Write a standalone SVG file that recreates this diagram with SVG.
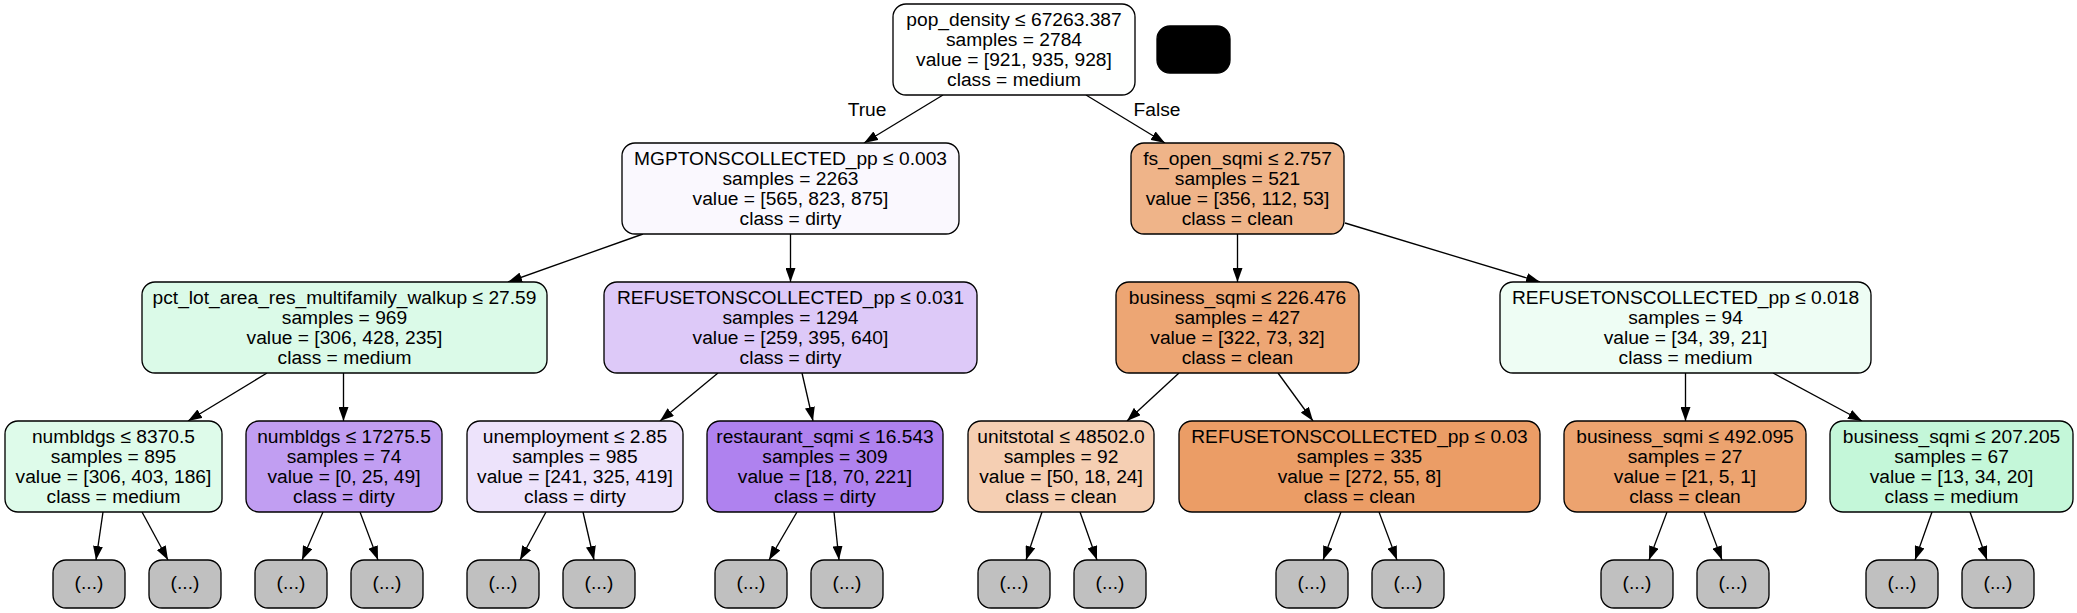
<svg xmlns="http://www.w3.org/2000/svg" width="2077" height="613" viewBox="0 0 2077 613">
<style>
  .box { stroke:#000; stroke-width:1.33; }
  .more { fill:#c0c0c0; stroke:#000; stroke-width:1.33; }
  text { font-family:"Liberation Sans", Arial, Helvetica, sans-serif; font-size:19.2px; fill:#000; text-anchor:middle; }
  #edges line { stroke:#000; stroke-width:1.33; fill:none; marker-end:url(#ah); }
</style>
<defs>
  <marker id="ah" markerUnits="userSpaceOnUse" markerWidth="14" markerHeight="10" refX="14" refY="5" orient="auto">
    <path d="M0,0 L14,5 L0,10 z" fill="#000"/>
  </marker>
</defs>
<rect width="2077" height="613" fill="#fff"/>

<g id="edges">
  <line x1="943" y1="95" x2="864" y2="143"/>
  <line x1="1086" y1="95" x2="1165" y2="143"/>
  <line x1="643" y1="234" x2="508" y2="282"/>
  <line x1="790.5" y1="234" x2="790.5" y2="282"/>
  <line x1="1237.5" y1="234" x2="1237.5" y2="282"/>
  <line x1="1345" y1="223" x2="1540" y2="282"/>
  <line x1="267" y1="373" x2="188" y2="421"/>
  <line x1="343.5" y1="373" x2="343.5" y2="421"/>
  <line x1="718" y1="373" x2="660" y2="421"/>
  <line x1="802" y1="373" x2="813" y2="421"/>
  <line x1="1179" y1="373" x2="1127" y2="421"/>
  <line x1="1278" y1="373" x2="1313" y2="421"/>
  <line x1="1685.5" y1="373" x2="1685.5" y2="421"/>
  <line x1="1773" y1="373" x2="1862" y2="421"/>
  <line x1="103" y1="512" x2="96" y2="560"/>
  <line x1="142" y1="512" x2="168" y2="560"/>
  <line x1="323" y1="512" x2="302" y2="560"/>
  <line x1="360" y1="512" x2="378" y2="560"/>
  <line x1="546" y1="512" x2="520" y2="560"/>
  <line x1="583" y1="512" x2="594" y2="560"/>
  <line x1="797" y1="512" x2="769" y2="560"/>
  <line x1="834" y1="512" x2="839" y2="560"/>
  <line x1="1042" y1="512" x2="1026" y2="560"/>
  <line x1="1080" y1="512" x2="1097" y2="560"/>
  <line x1="1341" y1="512" x2="1323" y2="560"/>
  <line x1="1379" y1="512" x2="1397" y2="560"/>
  <line x1="1667" y1="512" x2="1649" y2="560"/>
  <line x1="1704" y1="512" x2="1722" y2="560"/>
  <line x1="1932" y1="512" x2="1915" y2="560"/>
  <line x1="1970" y1="512" x2="1987" y2="560"/>
</g>
<g id="edge-labels">
  <text x="867" y="116">True</text>
  <text x="1157" y="116">False</text>
</g>

<g id="n0">
  <rect class="box" x="893" y="4" width="242" height="91" rx="13" fill="#fefffe"/>
  <text x="1014" y="25.8">pop_density ≤ 67263.387</text>
  <text x="1014" y="45.8">samples = 2784</text>
  <text x="1014" y="65.8">value = [921, 935, 928]</text>
  <text x="1014" y="85.8">class = medium</text>
</g>
<g id="legend">
  <rect x="1157" y="26" width="73" height="47" rx="13" fill="#000" stroke="#000" stroke-width="1.33"/>
</g>

<g id="n1">
  <rect class="box" x="622" y="143" width="337" height="91" rx="13" fill="#faf8fe"/>
  <text x="790.5" y="164.8">MGPTONSCOLLECTED_pp ≤ 0.003</text>
  <text x="790.5" y="184.8">samples = 2263</text>
  <text x="790.5" y="204.8">value = [565, 823, 875]</text>
  <text x="790.5" y="224.8">class = dirty</text>
</g>
<g id="n2">
  <rect class="box" x="1131" y="143" width="213" height="91" rx="13" fill="#efb489"/>
  <text x="1237.5" y="164.8">fs_open_sqmi ≤ 2.757</text>
  <text x="1237.5" y="184.8">samples = 521</text>
  <text x="1237.5" y="204.8">value = [356, 112, 53]</text>
  <text x="1237.5" y="224.8">class = clean</text>
</g>

<g id="n3">
  <rect class="box" x="142" y="282" width="405" height="91" rx="13" fill="#dbfae8"/>
  <text x="344.5" y="303.8">pct_lot_area_res_multifamily_walkup ≤ 27.59</text>
  <text x="344.5" y="323.8">samples = 969</text>
  <text x="344.5" y="343.8">value = [306, 428, 235]</text>
  <text x="344.5" y="363.8">class = medium</text>
</g>
<g id="n4">
  <rect class="box" x="604" y="282" width="373" height="91" rx="13" fill="#ddc9f8"/>
  <text x="790.5" y="303.8">REFUSETONSCOLLECTED_pp ≤ 0.031</text>
  <text x="790.5" y="323.8">samples = 1294</text>
  <text x="790.5" y="343.8">value = [259, 395, 640]</text>
  <text x="790.5" y="363.8">class = dirty</text>
</g>
<g id="n5">
  <rect class="box" x="1116" y="282" width="243" height="91" rx="13" fill="#eda674"/>
  <text x="1237.5" y="303.8">business_sqmi ≤ 226.476</text>
  <text x="1237.5" y="323.8">samples = 427</text>
  <text x="1237.5" y="343.8">value = [322, 73, 32]</text>
  <text x="1237.5" y="363.8">class = clean</text>
</g>
<g id="n6">
  <rect class="box" x="1500" y="282" width="371" height="91" rx="13" fill="#eefdf4"/>
  <text x="1685.5" y="303.8">REFUSETONSCOLLECTED_pp ≤ 0.018</text>
  <text x="1685.5" y="323.8">samples = 94</text>
  <text x="1685.5" y="343.8">value = [34, 39, 21]</text>
  <text x="1685.5" y="363.8">class = medium</text>
</g>

<g id="n7">
  <rect class="box" x="5" y="421" width="217" height="91" rx="13" fill="#defbea"/>
  <text x="113.5" y="442.8">numbldgs ≤ 8370.5</text>
  <text x="113.5" y="462.8">samples = 895</text>
  <text x="113.5" y="482.8">value = [306, 403, 186]</text>
  <text x="113.5" y="502.8">class = medium</text>
</g>
<g id="n8">
  <rect class="box" x="246" y="421" width="196" height="91" rx="13" fill="#c19ef2"/>
  <text x="344" y="442.8">numbldgs ≤ 17275.5</text>
  <text x="344" y="462.8">samples = 74</text>
  <text x="344" y="482.8">value = [0, 25, 49]</text>
  <text x="344" y="502.8">class = dirty</text>
</g>
<g id="n9">
  <rect class="box" x="467" y="421" width="216" height="91" rx="13" fill="#ede3fb"/>
  <text x="575" y="442.8">unemployment ≤ 2.85</text>
  <text x="575" y="462.8">samples = 985</text>
  <text x="575" y="482.8">value = [241, 325, 419]</text>
  <text x="575" y="502.8">class = dirty</text>
</g>
<g id="n10">
  <rect class="box" x="707" y="421" width="236" height="91" rx="13" fill="#af82ef"/>
  <text x="825" y="442.8">restaurant_sqmi ≤ 16.543</text>
  <text x="825" y="462.8">samples = 309</text>
  <text x="825" y="482.8">value = [18, 70, 221]</text>
  <text x="825" y="502.8">class = dirty</text>
</g>
<g id="n11">
  <rect class="box" x="968" y="421" width="186" height="91" rx="13" fill="#f5cfb3"/>
  <text x="1061" y="442.8">unitstotal ≤ 48502.0</text>
  <text x="1061" y="462.8">samples = 92</text>
  <text x="1061" y="482.8">value = [50, 18, 24]</text>
  <text x="1061" y="502.8">class = clean</text>
</g>
<g id="n12">
  <rect class="box" x="1179" y="421" width="361" height="91" rx="13" fill="#eb9d66"/>
  <text x="1359.5" y="442.8">REFUSETONSCOLLECTED_pp ≤ 0.03</text>
  <text x="1359.5" y="462.8">samples = 335</text>
  <text x="1359.5" y="482.8">value = [272, 55, 8]</text>
  <text x="1359.5" y="502.8">class = clean</text>
</g>
<g id="n13">
  <rect class="box" x="1564" y="421" width="242" height="91" rx="13" fill="#eca36f"/>
  <text x="1685" y="442.8">business_sqmi ≤ 492.095</text>
  <text x="1685" y="462.8">samples = 27</text>
  <text x="1685" y="482.8">value = [21, 5, 1]</text>
  <text x="1685" y="502.8">class = clean</text>
</g>
<g id="n14">
  <rect class="box" x="1830" y="421" width="243" height="91" rx="13" fill="#c4f7d9"/>
  <text x="1951.5" y="442.8">business_sqmi ≤ 207.205</text>
  <text x="1951.5" y="462.8">samples = 67</text>
  <text x="1951.5" y="482.8">value = [13, 34, 20]</text>
  <text x="1951.5" y="502.8">class = medium</text>
</g>

<g id="t1"><rect class="more" x="53" y="560" width="72" height="48" rx="13"/><text x="89" y="589">(...)</text></g>
<g id="t2"><rect class="more" x="149" y="560" width="72" height="48" rx="13"/><text x="185" y="589">(...)</text></g>
<g id="t3"><rect class="more" x="255" y="560" width="72" height="48" rx="13"/><text x="291" y="589">(...)</text></g>
<g id="t4"><rect class="more" x="351" y="560" width="72" height="48" rx="13"/><text x="387" y="589">(...)</text></g>
<g id="t5"><rect class="more" x="467" y="560" width="72" height="48" rx="13"/><text x="503" y="589">(...)</text></g>
<g id="t6"><rect class="more" x="563" y="560" width="72" height="48" rx="13"/><text x="599" y="589">(...)</text></g>
<g id="t7"><rect class="more" x="715" y="560" width="72" height="48" rx="13"/><text x="751" y="589">(...)</text></g>
<g id="t8"><rect class="more" x="811" y="560" width="72" height="48" rx="13"/><text x="847" y="589">(...)</text></g>
<g id="t9"><rect class="more" x="978" y="560" width="72" height="48" rx="13"/><text x="1014" y="589">(...)</text></g>
<g id="t10"><rect class="more" x="1074" y="560" width="72" height="48" rx="13"/><text x="1110" y="589">(...)</text></g>
<g id="t11"><rect class="more" x="1276" y="560" width="72" height="48" rx="13"/><text x="1312" y="589">(...)</text></g>
<g id="t12"><rect class="more" x="1372" y="560" width="72" height="48" rx="13"/><text x="1408" y="589">(...)</text></g>
<g id="t13"><rect class="more" x="1601" y="560" width="72" height="48" rx="13"/><text x="1637" y="589">(...)</text></g>
<g id="t14"><rect class="more" x="1697" y="560" width="72" height="48" rx="13"/><text x="1733" y="589">(...)</text></g>
<g id="t15"><rect class="more" x="1866" y="560" width="72" height="48" rx="13"/><text x="1902" y="589">(...)</text></g>
<g id="t16"><rect class="more" x="1962" y="560" width="72" height="48" rx="13"/><text x="1998" y="589">(...)</text></g>
</svg>
